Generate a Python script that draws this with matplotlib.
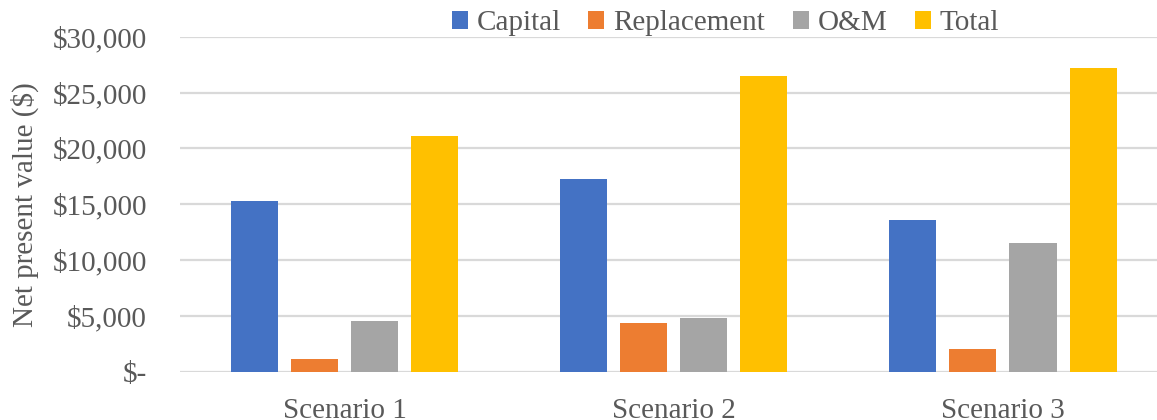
import matplotlib.pyplot as plt
import numpy as np

plt.rcParams["font.family"] = "serif"
plt.rcParams["font.serif"] = ["Liberation Serif"]
plt.rcParams["font.size"] = 21

scenarios = ["Scenario 1", "Scenario 2", "Scenario 3"]
series = ["Capital", "Replacement", "O&M", "Total"]
capital = [15260, 17230, 13560]
replacement = [1200, 4360, 2030]
om = [4540, 4810, 11500]
total = [21110, 26480, 27170]
colors = ["#4472C4", "#ED7D31", "#A5A5A5", "#FFC000"]
yticks = [0, 5000, 10000, 15000, 20000, 25000, 30000]
ytick_labels = ["$-", "$5,000", "$10,000", "$15,000", "$20,000", "$25,000", "$30,000"]

text_color = "#595959"

fig = plt.figure(figsize=(11.57, 4.2), dpi=100)
ax = fig.add_axes([0.1558, 0.1143, 0.8442, 0.7983])

x = np.arange(len(scenarios))
pitch = 0.1824
width = 0.1429
for i, (name, vals) in enumerate(zip(series, [capital, replacement, om, total])):
    ax.bar(x + (i - 1.5) * pitch, vals, width, color=colors[i], label=name, zorder=3)

ax.set_xlim(-0.5, 2.468)
ax.set_ylim(0, 30000)
ax.set_yticks(yticks, ytick_labels)
ax.set_xticks(x, scenarios)
ax.grid(axis="y", color="#d9d9d9", lw=1.6, zorder=0)
ax.tick_params(axis="both", length=0, colors=text_color, labelsize=21)
ax.tick_params(axis="y", pad=24)
ax.tick_params(axis="x", pad=19)
for s in ax.spines.values():
    s.set_visible(False)
ax.set_ylabel("Net present value ($)", color=text_color, fontsize=21, labelpad=10)

fig.legend(
    loc="center",
    bbox_to_anchor=(0.627, 0.945),
    ncol=4,
    frameon=False,
    fontsize=21,
    handlelength=0.55,
    handleheight=0.55,
    handletextpad=0.3,
    columnspacing=0.95,
    labelcolor=text_color,
)

plt.savefig("out.png")
